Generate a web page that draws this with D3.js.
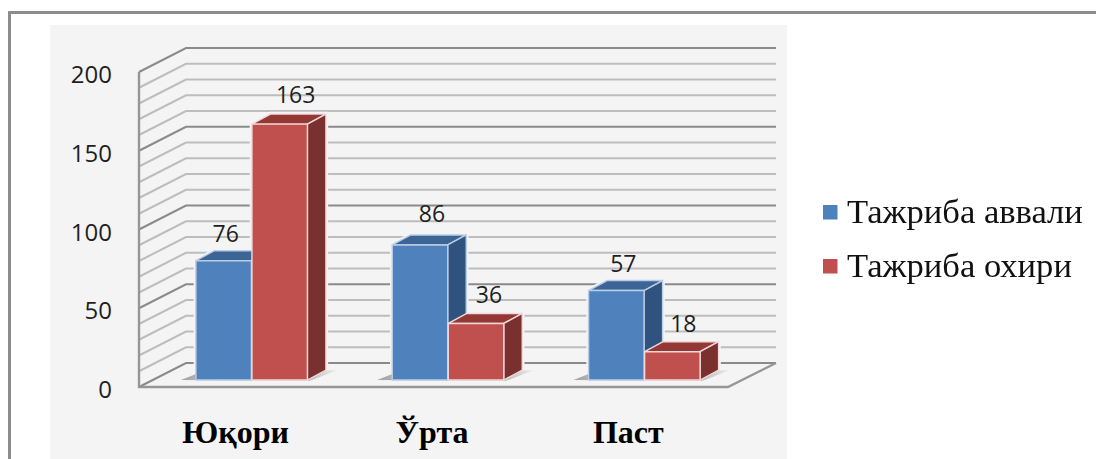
<!DOCTYPE html>
<html>
<head>
<meta charset="utf-8">
<script src="https://cdn.jsdelivr.net/npm/d3@7"></script>
<style>
  html, body { margin: 0; padding: 0; background: #fff; overflow: hidden; }
  svg { display: block; filter: blur(0.7px); }
</style>
</head>
<body>
<div id="chart"></div>
<script>
const categories = ["Юқори", "Ўрта", "Паст"];
const seriesNames = ["Тажриба аввали", "Тажриба охири"];
const before = [76, 86, 57];
const after = [163, 36, 18];
const yTicks = [0, 50, 100, 150, 200];

// hand placed data labels in the original, offset from bar top centre
const labelShiftBefore = [[2, -19], [12, -23], [7, -19]];
const labelShiftAfter = [[16, -21], [13, -20], [11, -20]];

const colors = [
  { front: "#4f81bd", side: "#30527f", top: "#3c6494", edge: "#b9cde6" },
  { front: "#c0504d", side: "#7a302e", top: "#943836", edge: "#f0d9d8" }
];

const width = 1096, height = 459;
const wallDx = 47, wallDy = 24;
const barDx = 18.5, barDy = 10;
const barShift = 14.5, barBase = 380;

const svg = d3.select("#chart").append("svg")
  .attr("width", width)
  .attr("height", height);

// khung ngoai + nen
svg.append("path")
  .attr("d", `M9.5,${height} V12.5 H${width}`)
  .attr("fill", "none")
  .attr("stroke", "#8c8c8c")
  .attr("stroke-width", 3);

svg.append("rect")
  .attr("x", 50).attr("y", 25)
  .attr("width", 737).attr("height", height - 25)
  .attr("fill", "#f4f4f4");

// scales
const y = d3.scaleLinear().domain([0, 200]).range([387, 72]);
const yBar = d3.scaleLinear().domain([0, 200]).range([barBase, barBase - 314]);
const x0 = d3.scaleBand().domain(categories).range([139, 728]);
const x1 = d3.scaleBand().domain(seriesNames).range([0, 111.5]).paddingInner(0.01);

// grid
const gridValues = y.ticks(20);
const grid = svg.append("g").attr("fill", "none");
const lineColor = d => d % 50 === 0 ? "#8a8a8a" : "#bdbdbd";

grid.selectAll(".back")
  .data(gridValues)
  .enter()
  .append("path")
  .attr("class", "back")
  .attr("d", d => `M139,${y(d)} L${139 + wallDx},${y(d) - wallDy} H776`)
  .attr("stroke", lineColor)
  .attr("stroke-width", 2);

// san + truc
grid.append("path")
  .attr("d", `M139,${y(200)} V${y(0)} H728 L776,${y(0) - wallDy}`)
  .attr("stroke", "#969696")
  .attr("stroke-width", 2.4);

// data table
const rows = [];
categories.forEach((c, i) => {
  rows.push({ cat: c, name: seriesNames[0], s: 0, value: before[i], shift: labelShiftBefore[i] });
  rows.push({ cat: c, name: seriesNames[1], s: 1, value: after[i], shift: labelShiftAfter[i] });
});
const barX = d => x0(d.cat) + x0.bandwidth() / 2 + barShift - x1.range()[1] / 2 + x1(d.name);
const bw = x1.bandwidth();

// vien sang quanh cot, cat duong luoi
svg.append("g")
  .selectAll("polygon")
  .data(rows)
  .enter()
  .append("polygon")
  .attr("points", d => {
    const l = barX(d), r = l + bw, t = yBar(d.value);
    return [[l, t], [l + barDx, t - barDy], [r + barDx, t - barDy], [r + barDx, barBase - barDy], [r, barBase], [l, barBase]].join(" ");
  })
  .attr("fill", "#f4f4f4")
  .attr("stroke", "#f4f4f4")
  .attr("stroke-width", 4.5);

// bong tren san
const shadow = svg.append("defs").append("linearGradient")
  .attr("id", "floorShadow");
shadow.append("stop").attr("offset", "0").attr("stop-color", "#a0a0a0");
shadow.append("stop").attr("offset", "0.12").attr("stop-color", "#b4b4b4");
shadow.append("stop").attr("offset", "0.85").attr("stop-color", "#c4c4c4");
shadow.append("stop").attr("offset", "1").attr("stop-color", "#f0f0f0");

svg.append("g")
  .selectAll("polygon")
  .data(categories)
  .enter()
  .append("polygon")
  .attr("points", c => {
    const left = x0(c) + x0.bandwidth() / 2 + barShift - x1.range()[1] / 2;
    const right = left + x1.range()[1];
    return [[left - 15, barBase], [left, barBase - 6], [right + barDx + 12, barBase - 10], [right + 2, barBase + 1]].join(" ");
  })
  .attr("fill", "url(#floorShadow)");

// cot 3D
const bars = svg.append("g").selectAll("g")
  .data(rows)
  .enter()
  .append("g")
  .attr("stroke-width", 1.4)
  .attr("stroke-linejoin", "round")
  .attr("stroke", d => colors[d.s].edge);

bars.append("polygon")
  .attr("points", d => {
    const l = barX(d), t = yBar(d.value);
    return [[l, t], [l + barDx, t - barDy], [l + bw + barDx, t - barDy], [l + bw, t]].join(" ");
  })
  .attr("fill", d => colors[d.s].top);

bars.append("polygon")
  .attr("points", d => {
    const r = barX(d) + bw, t = yBar(d.value);
    return [[r, t], [r + barDx, t - barDy], [r + barDx, barBase - barDy], [r, barBase]].join(" ");
  })
  .attr("fill", d => colors[d.s].side);

bars.append("rect")
  .attr("x", barX)
  .attr("y", d => yBar(d.value))
  .attr("width", bw)
  .attr("height", d => barBase - yBar(d.value))
  .attr("fill", d => colors[d.s].front);

// nhan gia tri
svg.append("g").selectAll("text")
  .data(rows)
  .enter()
  .append("text")
  .attr("x", d => barX(d) + bw / 2 + d.shift[0])
  .attr("y", d => yBar(d.value) + d.shift[1])
  .attr("text-anchor", "middle")
  .style("font-family", "'Open Sans', sans-serif")
  .style("font-size", "23px")
  .style("fill", "#1f1f1f")
  .text(d => d.value);

// truc
const yAxis = svg.append("g")
  .attr("transform", "translate(139,3)")
  .call(d3.axisLeft(y).tickValues(yTicks).tickSize(0).tickPadding(27));
yAxis.select(".domain").remove();
yAxis.selectAll("text")
  .style("font-family", "'Open Sans', sans-serif")
  .style("font-size", "24px")
  .style("fill", "#1f1f1f");

const xAxis = svg.append("g")
  .attr("transform", "translate(-1.5,433)")
  .call(d3.axisBottom(x0).tickSize(0).tickPadding(0));
xAxis.select(".domain").remove();
xAxis.selectAll("text")
  .attr("y", 0)
  .attr("dy", "10px")
  .style("font-family", "'Liberation Serif', serif")
  .style("font-weight", "bold")
  .style("font-size", "32px")
  .style("fill", "#000");

// legend
const legend = svg.append("g").selectAll("g")
  .data(seriesNames)
  .enter()
  .append("g")
  .attr("transform", (d, i) => `translate(823,${205 + i * 54})`);

legend.append("rect")
  .attr("width", 14.5)
  .attr("height", 14.5)
  .attr("fill", (d, i) => colors[i].front);

legend.append("text")
  .attr("x", 24)
  .attr("y", 18)
  .style("font-family", "'Liberation Serif', serif")
  .style("font-size", "34.6px")
  .style("fill", "#111")
  .text(d => d);
</script>
</body>
</html>
